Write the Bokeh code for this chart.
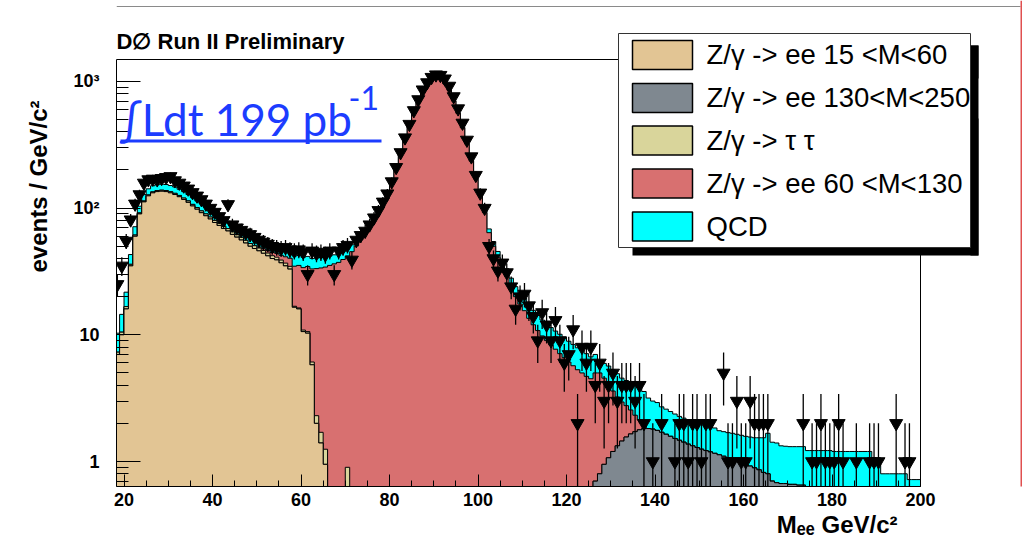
import numpy as np
from bokeh.plotting import figure
from bokeh.models import (ColumnDataSource, FixedTicker, CustomJSTickFormatter,
                          Label, BoxAnnotation, Range1d, Title)
from bokeh.embed import file_html
from bokeh.resources import INLINE

# ---------------- data: events / GeV in 1 GeV bins (lower bin edge given) ----------------
first_bin = 18
last_bin = 199

# Z/gamma -> ee 15<M<60
dy15_start = 18
dy15 = [7, 10,
        16, 35, 60, 90, 112, 125, 132, 135, 136, 135,
        132, 128, 123, 117, 111, 104, 98, 92, 87, 82,
        77, 73, 69, 66, 62, 59, 56, 53, 50, 48,
        46, 44, 42, 40, 39, 37, 35, 33, 16.5, 16,
        10.6, 10.3, 5.8, 2.0, 1.4, 0.95]

# Z/gamma -> tau tau
tautau_start = 18
tautau = [0.3, 0.5,
          0.7, 1.0, 1.3, 1.6, 1.8, 2.0, 2.2, 2.4, 2.5, 2.6,
          2.7, 2.8, 2.9, 3.0, 3.0, 3.0, 3.0, 3.0, 3.0, 3.0,
          3.0, 3.0, 3.0, 2.9, 2.9, 2.8, 2.8, 2.7, 2.6, 2.5,
          2.4, 2.3, 2.2, 2.1, 2.0, 1.9, 1.8, 1.7, 0.3, 0.3,
          0.3, 0.3, 0.3, 0.3, 0.3, 0.3, 0.3, 0.3, 0.3, 0.3,
          0.9, 0.3, 0.3, 0.3, 0.3, 0.2, 0.2, 0.2, 0.2, 0.2]

# Z/gamma -> ee 60<M<130
dy60_start = 50
dy60 = [1, 1.5, 2, 2.5, 3, 3.5, 4.5, 5.5, 18, 19,
        23, 24, 27, 31, 32, 33, 35, 36, 37, 39,
        41, 45, 50, 56, 63, 71, 80, 92, 105, 125,
        160, 205, 270, 345, 440, 560, 680, 810, 930, 1010,
        1050, 1040, 960, 850, 700, 560, 430, 320, 235, 170,
        125, 92, 64, 50, 41, 35, 29, 24, 20, 17.5,
        15.5, 13.5, 12, 10.8, 9.8, 9.0, 8.3, 7.7, 7.1, 6.6,
        6.1, 5.7, 5.3, 5.0, 4.7, 4.5, 4.3, 4.2, 3.6, 3.0,
        2.4, 1.9, 1.5, 1.2, 0.9, 0.6, 0.35, 0.15]

# Z/gamma -> ee 130<M<250
dy130_start = 126
dy130 = [0.7, 0.8, 0.95, 1.07,
         1.2, 1.33, 1.45, 1.56, 1.65, 1.72, 1.78, 1.82, 1.82, 1.8,
         1.76, 1.7, 1.64, 1.58, 1.52, 1.47, 1.42, 1.37, 1.33, 1.29,
         1.25, 1.22, 1.19, 1.16, 1.13, 1.1, 1.07, 1.04, 1.01, 0.98,
         0.95, 0.92, 0.89, 0.86, 0.82, 0.8, 0.7, 0.68, 0.67, 0.67,
         0.66, 0.66, 0.65, 0.65, 0.5, 0.5, 0.5, 0.5, 0.5, 0.5,
         0.4, 0.4, 0.4, 0.4, 0.4, 0.4, 0.4, 0.4, 0.4, 0.4,
         0.4, 0.4, 0.4, 0.4, 0.4, 0.4, 0.4, 0.4, 0.4, 0.4]

# QCD
qcd_start = 18
qcd = [3, 4,
       5, 7, 10, 12, 14, 15, 16, 16, 16, 16,
       16, 16, 15, 15, 14, 14, 13, 13, 12, 12,
       11, 11, 10, 10, 10, 9.5, 9, 9, 8.5, 8.5,
       8, 8, 8, 7.5, 7.5, 7.5, 7, 7, 7, 7,
       7, 7, 7, 7, 7, 6.5, 6.5, 6.5, 6.5, 6,
       6, 6, 6, 5.5, 5.5, 5.5, 5, 5, 5, 5,
       5, 5, 5, 5, 5, 5, 5, 5, 5, 5,
       5, 5, 5, 5, 5, 5, 5, 5, 4.5, 4.5,
       4.5, 4.5, 4.5, 4.5, 4.5, 4.2, 4.2, 4, 4, 4,
       4, 3.8, 3.6, 3.4, 3.3, 3.2, 3.1, 3.0, 3.0, 3.0,
       2.8, 2.7, 2.6, 2.5, 2.4, 2.2, 2.0, 1.2, 1.4, 1.6,
       1.7, 1.7, 1.6, 1.6, 1.6, 1.7, 1.75, 1.6, 1.35, 1.2,
       1.16, 1.0, 0.95, 0.9, 0.85, 0.8, 0.78, 0.76, 0.75, 0.75,
       0.75, 0.72, 0.7, 0.68, 0.62, 0.62, 0.62, 0.63, 0.63, 0.63,
       0.63, 0.64, 0.65, 0.68, 0.72, 0.87, 0.72, 0.72, 0.66, 0.65,
       0.65, 0.65, 0.66, 0.66, 0.72, 0.72, 0.72, 0.72, 0.72, 0.72,
       0.8, 0.8, 0.8, 0.8, 0.8, 0.8, 0.8, 0.8, 0.8, 0.56,
       0.56, 0.4, 0.4, 0.4, 0.4, 0.4, 0.4, 0.32, 0.32, 0.32]

# D0 data (events per 1 GeV bin)
data_start = 18
data_counts = [25, 35,
               55, 81, 108, 128, 158, 168, 170, 168, 172, 175,
               178, 165, 158, 150, 142, 133, 125, 117, 108, 100,
               93, 86, 80, 107, 74, 70, 67, 64, 62, 59,
               56, 54, 52, 50, 49, 48, 49, 47, 46, 47,
               45, 30, 46, 44, 45, 43, 46, 30, 46, 49,
               51, 39, 56, 61, 66, 74, 84, 96, 112, 130,
               162, 210, 275, 360, 460, 590, 720, 860, 980, 1080,
               1130, 1120, 1050, 920, 760, 610, 470, 345, 255, 182,
               132, 100, 50, 40, 32, 37, 31, 24, 16, 20,
               21, 17, 14, 9, 15, 12, 9, 13, 9, 6,
               7, 11, 2, 8, 6, 8, 4, 6, 3, 4,
               5, 3, 4, 4, 4, 3, 4, 2, 0, 1,
               0, 2, 0, 0, 1, 2, 2, 1, 2, 2,
               1, 2, 2, 0, 0, 5, 1, 1, 3, 1,
               1, 3, 2, 2, 2, 2, 0, 0, 0, 0,
               0, 0, 0, 2, 0, 1, 1, 2, 1, 1,
               1, 2, 1, 0, 0, 1, 0, 0, 1, 1,
               1, 0, 0, 0, 2, 0, 1, 1, 0, 0]

x_ticks = [20, 40, 60, 80, 100, 120, 140, 160, 180, 200]
y_ticks = [1, 10, 100, 1000]
y_tick_labels = ["1", "10", "10\u00b2", "10\u00b3"]

legend_labels = ["Z/\u03b3 -> ee 15 <M<60", "Z/\u03b3 -> ee 130<M<250",
                 "Z/\u03b3 -> \u03c4 \u03c4", "Z/\u03b3 -> ee 60 <M<130", "QCD"]

# ---------------- styling / geometry ----------------
C_TAN, C_GRAY, C_TAU, C_RED, C_QCD = "#e2c594", "#7f8890", "#d9d59b", "#d87070", "#00ffff"
BLUE = "#1c3cff"
FONT = "Liberation Sans"

W, H = 1023, 538
FL, FB = 116, 486            # bokeh frame left / bottom (canvas px)
RF_R, RF_T = 920, 59         # ROOT frame right / top (canvas px)
XMIN, XMAX = 18.3, 200.0
YMIN = 0.635
PX_PER_GEV = (RF_R - FL) / (XMAX - XMIN)
PX_PER_DEC = 126.7
YMAX = YMIN * 10 ** ((FB - RF_T) / PX_PER_DEC)
X_FRAME_MAX = XMAX + (W - RF_R) / PX_PER_GEV
Y_FRAME_MAX = YMIN * 10 ** (FB / PX_PER_DEC)
FLOOR = 1e-2

nb = last_bin - first_bin + 1
edges = np.arange(first_bin, last_bin + 2, dtype=float)
centers = edges[:-1] + 0.5


def full(start, vals):
    arr = np.zeros(nb)
    i0 = start - first_bin
    arr[i0:i0 + len(vals)] = vals
    return arr


h_tan = full(dy15_start, dy15)
h_gray = full(dy130_start, dy130)
h_tau = full(tautau_start, tautau)
h_red = full(dy60_start, dy60)
h_qcd = full(qcd_start, qcd)
h_data = full(data_start, data_counts)

lvl_tan = h_tan
lvl_gray = lvl_tan + h_gray
lvl_tau = lvl_gray + h_tau
lvl_red = lvl_tau + h_red
lvl_qcd = lvl_red + h_qcd

p = figure(width=W, height=H, x_range=Range1d(XMIN, X_FRAME_MAX),
           y_range=Range1d(YMIN, Y_FRAME_MAX),
           y_axis_type="log", output_backend="svg", toolbar_location=None,
           min_border_left=FL, min_border_right=0, min_border_top=0,
           min_border_bottom=H - FB)
p.title.visible = False
p.outline_line_color = None
p.background_fill_color = "white"
p.border_fill_color = "white"
p.xgrid.grid_line_color = None
p.ygrid.grid_line_color = None


def step_poly(vals):
    xs, ys = [edges[0]], [FLOOR]
    for i, v in enumerate(vals):
        xs += [edges[i], edges[i + 1]]
        ys += [max(v, FLOOR), max(v, FLOOR)]
    xs.append(edges[-1])
    ys.append(FLOOR)
    return xs, ys


for lvl, col in [(lvl_qcd, C_QCD), (lvl_red, C_RED), (lvl_tau, C_TAU),
                 (lvl_gray, C_GRAY), (lvl_tan, C_TAN)]:
    xs, ys = step_poly(lvl)
    p.patch(xs, ys, fill_color=col, line_color="black", line_width=1)

mask = h_data > 0
n = h_data[mask]
err = np.sqrt(n)
src = ColumnDataSource(dict(x=centers[mask], y=n,
                            lo=np.maximum(n - err, FLOOR), hi=n + err))
p.segment(x0="x", y0="lo", x1="x", y1="hi", source=src, line_color="black", line_width=1.3)
p.scatter(x="x", y="y", source=src, marker="inverted_triangle", size=13,
          fill_color="black", line_color="black")

# axes
minor_x = [v for v in range(20, 201, 5) if v % 20 != 0]
p.xaxis.ticker = FixedTicker(ticks=x_ticks, minor_ticks=minor_x)
minor_y = [0.7, 0.8, 0.9] + [m * d for d in (1, 10, 100) for m in range(2, 10)]
p.yaxis.ticker = FixedTicker(ticks=y_ticks, minor_ticks=minor_y)
lab_map = "{" + ",".join(f"{t}:'{s}'" for t, s in zip(y_ticks, y_tick_labels)) + "}"
p.yaxis.formatter = CustomJSTickFormatter(
    code=f"const m = {lab_map}; const k = Math.round(tick); return (k in m) ? m[k] : '';")
p.xaxis.bounds = (XMIN, XMAX)
p.yaxis.bounds = (YMIN, YMAX)

for ax in (p.xaxis[0], p.yaxis[0]):
    ax.axis_line_color = "black"
    ax.major_tick_line_color = "black"
    ax.minor_tick_line_color = "black"
    ax.major_tick_out = 0
    ax.minor_tick_out = 0
    ax.major_label_text_font = FONT
    ax.major_label_text_font_style = "bold"
    ax.major_label_text_font_size = "18px"
    ax.major_label_text_color = "black"
p.xaxis.major_tick_in = 12
p.xaxis.minor_tick_in = 6
p.xaxis.major_label_standoff = 6
p.yaxis.major_tick_in = 24
p.yaxis.minor_tick_in = 12
p.yaxis.major_label_standoff = 17

# axis titles (outside the frame -> side panels)
p.add_layout(Title(text="events / GeV/c\u00b2", align="left", offset=214, standoff=34,
                   vertical_align="top",
                   text_font=FONT, text_font_size="24px", text_font_style="bold",
                   text_color="black"), "left")
p.add_layout(Title(text="M\u2091\u2091 GeV/c\u00b2", align="right", offset=126, standoff=0,
                   text_font=FONT, text_font_size="24px", text_font_style="bold",
                   text_color="black"), "below")


def sx(X):
    return X - FL


def sy(Y):
    return FB - Y


def box(X0, Y0, X1, Y1, fill=None, line=None, lw=1):
    b = BoxAnnotation(left=sx(X0), right=sx(X1), top=sy(Y0), bottom=sy(Y1),
                      left_units="screen", right_units="screen",
                      top_units="screen", bottom_units="screen",
                      fill_color=fill if fill else "white", fill_alpha=1 if fill else 0,
                      line_color=line if line else "black", line_alpha=1 if line else 0,
                      line_width=lw)
    p.add_layout(b)


def label(text, X, Yc, size, color="black", style="normal", font=FONT, align="left"):
    p.add_layout(Label(x=sx(X), y=sy(Yc), x_units="screen", y_units="screen", text=text,
                       text_font=font, text_font_size=f"{size}px", text_font_style=style,
                       text_color=color, text_align=align, text_baseline="middle"))


# ROOT frame (top and right sides; left/bottom are the axes)
box(FL, RF_T, RF_R, FB, fill=None, line="black", lw=1)

# canvas border lines (visible part)
box(FL, 5.5, 1020, 6.5, fill="#8a8a8a")
box(1020, 0, 1021.5, 538, fill="#e05050")

# plot title
label("D\u2205 Run II Preliminary", 116, 40.5, 22, style="bold")

# integrated luminosity
label("\u222bLdt 199 pb", 119, 118, 44, color=BLUE, font="Lato")
label("-1", 348, 97, 32, color=BLUE, font="Lato")
box(120, 139, 381, 142, fill=BLUE)

# legend
LX0, LY0, LX1, LY1 = 618, 33, 970, 247
box(LX0 + 14, LY0 + 12, LX1 + 8, LY1 + 8, fill="black")
box(LX0, LY0, LX1, LY1, fill="white")
row_y = [54.5, 97.5, 140, 183, 226]
cols = [C_TAN, C_GRAY, C_TAU, C_RED, C_QCD]
for yc, col, txt in zip(row_y, cols, legend_labels):
    box(632, yc - 14.5, 692, yc + 14.5, fill=col, line="black", lw=1.5)
    label(txt, 706, yc - 0.5, 27.5)
box(LX1 + 1, 78, 1015, 118, fill="white")
box(LX1, LY0 + 12, LX1 + 8, LY1 + 8, fill="black")
box(LX0, LY0, LX1, LY1, fill=None, line="#333333", lw=1)

open("out.html", "w").write(file_html(p, INLINE))
